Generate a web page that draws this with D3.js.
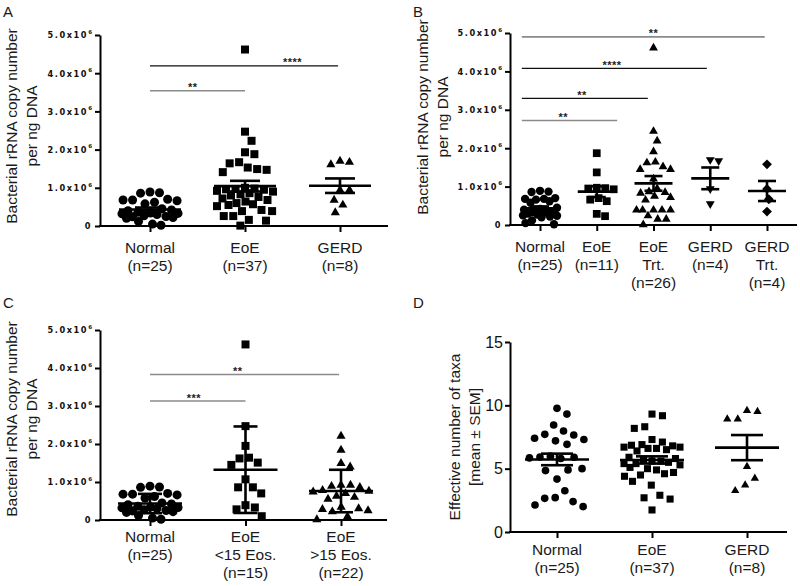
<!DOCTYPE html>
<html><head><meta charset="utf-8">
<script src="https://cdn.jsdelivr.net/npm/d3@7"></script>
<style>body{margin:0;background:#fff}svg{display:block}</style>
</head><body>
<svg id="chart" width="800" height="586"></svg>
<script>
// ---------------- DATA ----------------
// Panel A (copy number, x10^6)
const catsA = [["Normal","(n=25)"],["EoE","(n=37)"],["GERD","(n=8)"]];
const normalCopy = [0.87,0.89,0.86,0.70,0.66,0.68,0.68,0.62,0.58,0.45,0.40,0.42,0.33,0.32,0.36,0.34,0.30,0.27,0.25,0.24,0.22,0.20,0.12,0.05,0.02];
const eoeCopyA = [4.62,2.47,2.23,1.93,1.88,1.67,1.64,1.53,1.49,1.41,1.47,0.98,0.97,0.96,0.95,0.92,0.90,0.86,0.83,0.80,0.76,0.72,0.68,0.64,0.60,0.57,0.55,0.52,1.00,0.26,0.39,0.42,0.39,0.26,0.16,0.14,0.01];
const gerdCopyA = [1.70,1.61,1.67,0.94,0.94,0.68,0.55,0.35];
// Panel B
const catsB = [["Normal","(n=25)"],["EoE","(n=11)"],["EoE","Trt.","(n=26)"],["GERD","(n=4)"],["GERD","Trt.","(n=4)"]];
const eoeCopyB = [1.87,1.37,0.97,0.96,0.95,0.93,0.70,0.66,0.62,0.29,0.23];
const eoeTrtCopyB = [4.61,2.44,2.19,1.91,1.64,1.62,1.52,1.45,1.45,1.20,0.95,0.87,0.85,0.83,0.75,0.72,0.65,0.39,0.39,0.39,0.39,0.39,0.24,0.15,0.15,0.01];
const gerdCopyB = [1.70,1.67,0.94,0.55];
const gerdTrtCopyB = [1.58,0.94,0.67,0.35];
// Panel C
const catsC = [["Normal","(n=25)"],["EoE","<15 Eos.","(n=15)"],["EoE",">15 Eos.","(n=22)"]];
const eoeLowCopy = [4.62,2.47,1.95,1.64,1.62,1.51,1.45,1.07,0.86,0.86,0.70,0.39,0.33,0.28,0.10];
const eoeHighCopy = [2.21,1.84,1.49,1.40,0.92,0.92,0.89,0.86,0.78,0.76,0.74,0.70,0.63,0.60,0.55,0.34,0.30,0.28,0.25,0.22,0.09,0.01];
// Panel D (effective number of taxa)
const catsD = [["Normal","(n=25)"],["EoE","(n=37)"],["GERD","(n=8)"]];
const normalTaxa = [9.76,9.31,8.45,7.97,7.66,7.71,7.30,7.40,7.20,6.92,5.80,5.99,5.90,5.85,5.92,4.90,4.85,5.00,4.18,3.26,2.71,2.40,2.00,2.13,2.66];
const eoeTaxa = [9.31,9.18,8.18,8.31,7.30,7.10,6.70,6.60,6.90,6.70,6.80,6.85,6.60,6.50,6.40,5.60,5.40,5.90,5.80,5.70,5.60,5.50,5.40,5.30,5.10,5.00,4.90,4.70,4.60,4.50,4.40,4.00,3.70,2.90,2.70,2.60,1.74];
const gerdTaxa = [9.58,9.50,8.92,8.92,5.16,4.24,3.71,3.26];
// Ticks
const copyTicks = [0,1,2,3,4,5];
const copyTickLabels = ["0","1.0x10","2.0x10","3.0x10","4.0x10","5.0x10"];
const taxaTicks = [0,5,10,15];
const copyTitle = ["Bacterial rRNA copy number","per ng DNA"];
const taxaTitle = ["Effective number of taxa","[mean \u00b1 SEM]"];
// Significance (from/to in category index units, y in data units)
const sigA = [{from:0,to:1,y:3.54,label:"**",at:0.45,gray:true},{from:0,to:1.98,y:4.19,label:"****",at:1.5,gray:false}];
const sigB = [{from:-0.32,to:3.96,y:4.90,label:"**",at:2,gray:true},{from:-0.32,to:2.94,y:4.08,label:"****",at:1.27,gray:false},{from:-0.32,to:1.90,y:3.30,label:"**",at:0.74,gray:false},{from:-0.32,to:1.36,y:2.72,label:"**",at:0.41,gray:true}];
const sigC = [{from:0,to:1.98,y:3.83,label:"**",at:0.92,gray:true},{from:0,to:1,y:3.13,label:"***",at:0.46,gray:true}];

// ---------------- DRAW ----------------
const svg = d3.select("#chart");
const FONT = "'Liberation Sans', Arial, sans-serif";

// beeswarm with anisotropic spacing (k<1 spreads points horizontally)
function swarm(vals, y, d, maxHalf, k){
  const pts = vals.map(v=>({v, y:y(v)})).sort((a,b)=>d3.descending(a.v,b.v));
  const placed = [];
  const dist = (q,cx,py)=>Math.hypot(q.x-cx,(q.y-py)*k);
  for(const p of pts){
    const near = placed.filter(q=>Math.abs(q.y-p.y)*k < d);
    let c = [0];
    for(const q of near){ const dx = Math.sqrt(Math.max(0,d*d-((q.y-p.y)*k)**2)); c.push(q.x+dx, q.x-dx); }
    c = c.filter(v=>Math.abs(v) <= maxHalf+1e-6).sort((a,b)=>Math.abs(a)-Math.abs(b));
    let x = c.find(cc=>near.every(q=>dist(q,cc,p.y) >= d-1e-6));
    if(x===undefined){
      let best=0,bd=-1;
      for(let cc=-maxHalf; cc<=maxHalf; cc+=0.5){
        const md = d3.min(near,q=>dist(q,cc,p.y));
        if(md>bd+0.01){bd=md;best=cc;}
      }
      x=best;
    }
    p.x=x; placed.push(p);
  }
  return pts;
}

function symbolPath(kind, size){
  if(kind==="circle") return {d:d3.symbol(d3.symbolCircle, size)(), r:0};
  if(kind==="square") return {d:d3.symbol(d3.symbolSquare, size)(), r:0};
  if(kind==="triangle") return {d:d3.symbol(d3.symbolTriangle, size)(), r:0};
  if(kind==="tridown") return {d:d3.symbol(d3.symbolTriangle, size)(), r:180};
  if(kind==="diamond") return {d:d3.symbol(d3.symbolSquare, size*0.8)(), r:45};
}

function panel(cfg){
  const g = svg.append("g");
  const y = d3.scaleLinear().domain(cfg.yDomain).range([cfg.yBot, cfg.yTop]);
  const n = cfg.groups.length;
  const x = d3.scaleLinear().domain([0, n-1]).range([cfg.c0, cfg.c0 + cfg.step*(n-1)]);

  // y axis
  const ya = d3.axisLeft(y).tickValues(cfg.ticks).tickSize(5).tickSizeOuter(0)
    .tickFormat((d,i)=>cfg.tickLabels ? cfg.tickLabels[i] : d);
  const yg = g.append("g").attr("transform",`translate(${cfg.x0},0)`).call(ya);
  yg.select(".domain").attr("stroke","#000").attr("stroke-width",2);
  yg.selectAll(".tick line").attr("stroke","#000").attr("stroke-width",2);
  const tl = yg.selectAll(".tick text").attr("x",-8).attr("fill","#111");
  if(cfg.tickLabels){
    tl.attr("font-family","'DejaVu Sans', sans-serif").attr("font-weight","bold")
      .attr("font-size",8.2).attr("letter-spacing",1.6).attr("dy","0.35em");
    tl.each(function(d,i){
      const t=d3.select(this);
      if(d!==0){ t.append("tspan").attr("dy",-4.5).attr("font-size",5.5).attr("letter-spacing",0).text("6"); }
    });
  } else {
    tl.attr("font-family",FONT).attr("font-size",16).attr("x",-7);
  }
  // x axis
  g.append("line").attr("x1",cfg.x0-1).attr("x2",cfg.x1).attr("y1",y(0)).attr("y2",y(0))
    .attr("stroke","#000").attr("stroke-width",2);
  const xa = d3.axisBottom(x).tickValues(d3.range(n)).tickSize(6).tickSizeOuter(0).tickFormat("");
  const xg = g.append("g").attr("transform",`translate(0,${y(0)})`).call(xa);
  xg.select(".domain").remove();
  xg.selectAll(".tick line").attr("stroke","#000").attr("stroke-width",2);

  // category labels
  cfg.cats.forEach((lines,i)=>{
    const t = g.append("text").attr("x",x(i)).attr("y",cfg.yBot+cfg.labelOff)
      .attr("text-anchor","middle").attr("font-family",FONT).attr("font-size",15.5).attr("fill","#1a1a1a");
    lines.forEach((s,k)=>t.append("tspan").attr("x",x(i)).attr("dy",k===0?0:18).text(s));
  });

  // y title
  cfg.title.forEach((s,k)=>{
    g.append("text").attr("transform",`translate(${cfg.titleX[k]},${cfg.titleY}) rotate(-90)`)
      .attr("text-anchor","middle").attr("dy","0.35em").attr("font-family",FONT)
      .attr("font-size",15.5).attr("fill","#1a1a1a").text(s);
  });
  // panel letter
  g.append("text").attr("x",cfg.letterX).attr("y",cfg.letterY).attr("font-family",FONT)
    .attr("font-size",15).attr("fill","#1a1a1a").text(cfg.letter);

  // points
  cfg.groups.forEach((grp,i)=>{
    const pts = swarm(grp.values, y, cfg.dist, cfg.maxHalf, cfg.k);
    const sp = symbolPath(grp.shape, cfg.symSize[grp.shape] || cfg.symSize.default);
    g.append("g").selectAll("path").data(pts).join("path")
      .attr("d",sp.d).attr("fill","#000")
      .attr("transform",p=>`translate(${x(i)+p.x},${p.y}) rotate(${sp.r})`);
    // mean and error
    const m = d3.mean(grp.values), sd = d3.deviation(grp.values);
    const e = cfg.err==="sd" ? sd : sd/Math.sqrt(grp.values.length);
    const cx = x(i);
    const eg = g.append("g").attr("stroke","#000").attr("stroke-width",2.6);
    eg.append("line").attr("x1",cx-cfg.meanHalf).attr("x2",cx+cfg.meanHalf).attr("y1",y(m)).attr("y2",y(m));
    eg.append("line").attr("x1",cx).attr("x2",cx).attr("y1",y(m+e)).attr("y2",y(m-e));
    [m+e,m-e].forEach(v=>eg.append("line").attr("x1",cx-cfg.capHalf).attr("x2",cx+cfg.capHalf).attr("y1",y(v)).attr("y2",y(v)));
  });

  // significance
  (cfg.sig||[]).forEach(s=>{
    const col = s.gray ? "#8a8a8a" : "#111";
    g.append("line").attr("x1",x(s.from)).attr("x2",x(s.to)).attr("y1",y(s.y)).attr("y2",y(s.y))
      .attr("stroke",col).attr("stroke-width",s.gray?1.6:1.2);
    g.append("text").attr("x",x(s.at)).attr("y",y(s.y)+0.5).attr("text-anchor","middle")
      .attr("font-family",FONT).attr("font-weight","bold").attr("font-size",11).attr("fill","#222")
      .attr("letter-spacing",0.5).text(s.label);
  });
}

const copyCommon = {yDomain:[0,5], ticks:copyTicks, tickLabels:copyTickLabels, title:copyTitle};

panel(Object.assign({}, copyCommon, {
  letter:"A", letterX:3, letterY:17,
  x0:100, x1:388, yTop:35, yBot:226, c0:150, step:95,
  cats:catsA, labelOff:27, titleX:[12,32], titleY:126,
  groups:[{values:normalCopy,shape:"circle"},{values:eoeCopyA,shape:"square"},{values:gerdCopyA,shape:"triangle"}],
  dist:9.5, k:0.75, maxHalf:28, symSize:{circle:64,square:64,triangle:36,default:60},
  err:"sem", meanHalf:31, capHalf:15, sig:sigA
}));
panel(Object.assign({}, copyCommon, {
  letter:"B", letterX:413, letterY:17,
  x0:510, x1:797, yTop:33, yBot:225, c0:540, step:56.75,
  cats:catsB, labelOff:27, titleX:[423,443], titleY:117,
  groups:[{values:normalCopy,shape:"circle"},{values:eoeCopyB,shape:"square"},{values:eoeTrtCopyB,shape:"triangle"},{values:gerdCopyB,shape:"tridown"},{values:gerdTrtCopyB,shape:"diamond"}],
  dist:8.5, k:0.8, maxHalf:17, symSize:{circle:55,square:60,triangle:34,tridown:34,diamond:60,default:55},
  err:"sem", meanHalf:19, capHalf:9, sig:sigB
}));
panel(Object.assign({}, copyCommon, {
  letter:"C", letterX:3, letterY:308,
  x0:100, x1:387, yTop:330, yBot:520, c0:150, step:95.5,
  cats:catsC, labelOff:22, titleX:[12,32], titleY:419,
  groups:[{values:normalCopy,shape:"circle"},{values:eoeLowCopy,shape:"square"},{values:eoeHighCopy,shape:"triangle"}],
  dist:9.5, k:0.75, maxHalf:28, symSize:{circle:64,square:64,triangle:36,default:60},
  err:"sd", meanHalf:32, capHalf:12, sig:sigC
}));
panel({
  yDomain:[0,15], ticks:taxaTicks, tickLabels:null, title:taxaTitle,
  letter:"D", letterX:413, letterY:308,
  x0:510, x1:787, yTop:342, yBot:532, c0:557, step:95,
  cats:catsD, labelOff:23, titleX:[455,475], titleY:437,
  groups:[{values:normalTaxa,shape:"circle"},{values:eoeTaxa,shape:"square"},{values:gerdTaxa,shape:"triangle"}],
  dist:10.5, k:0.6, maxHalf:28, symSize:{circle:46,square:50,triangle:30,default:46},
  err:"sem", meanHalf:32, capHalf:16
});
</script>
</body></html>
